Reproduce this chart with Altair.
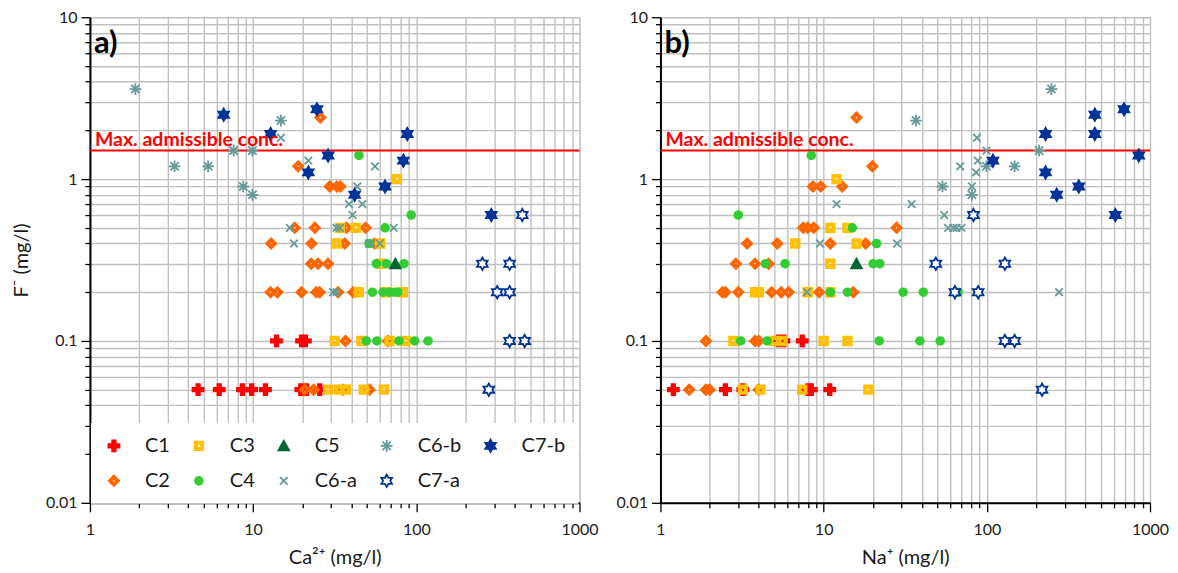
import altair as alt
import pandas as pd

# ---------------- data ----------------
# panel a) : x = Ca2+ (mg/l), y = F- (mg/l)
A_C1 = [(4.6, 0.05), (6.2, 0.05), (8.6, 0.05), (9.8, 0.05), (11.9, 0.05), (19.6, 0.05),
        (21.2, 0.05), (25.6, 0.05), (13.9, 0.1), (19.8, 0.1), (20.9, 0.1)]
A_C2 = [(25.8, 2.4), (18.9, 1.2), (29.5, 0.9), (32.6, 0.9), (34.3, 0.9), (18.0, 0.5),
        (23.9, 0.5), (37.3, 0.5), (48.9, 0.5), (12.9, 0.4), (22.8, 0.4), (36.4, 0.4),
        (55.6, 0.4), (22.7, 0.3), (25.0, 0.3), (28.8, 0.3), (12.8, 0.2), (14.1, 0.2),
        (19.8, 0.2), (24.4, 0.2), (25.6, 0.2), (33.2, 0.2), (41.1, 0.2), (36.8, 0.1),
        (67.0, 0.1), (20.7, 0.05), (23.5, 0.05), (35.5, 0.05), (51.7, 0.05)]
A_C3 = [(76, 1.0), (34.0, 0.5), (42.5, 0.5), (32.4, 0.4), (60, 0.4), (60.5, 0.3),
        (44.4, 0.2), (65, 0.2), (82.8, 0.2), (31.6, 0.1), (46.1, 0.1), (68.6, 0.1),
        (86, 0.1), (28.8, 0.05), (33.6, 0.05), (37.0, 0.05), (47.6, 0.05), (63.3, 0.05)]
A_C4 = [(44.5, 1.4), (93, 0.6), (64.3, 0.5), (51.3, 0.4), (56.9, 0.3), (65.6, 0.3),
        (84, 0.3), (53.8, 0.2), (62.5, 0.2), (68.7, 0.2), (73.6, 0.2), (77.2, 0.2),
        (49.4, 0.1), (57.3, 0.1), (78.3, 0.1), (97.7, 0.1), (118, 0.1)]
A_C5 = [(74.4, 0.3)]
A_C6A = [(14.8, 1.8), (21.8, 1.3), (55.8, 1.2), (43.5, 0.9), (38.7, 0.7), (46.7, 0.7),
         (40.6, 0.6), (16.8, 0.5), (32.4, 0.5), (34.0, 0.5), (72.6, 0.5), (17.8, 0.4),
         (51.3, 0.4), (59.7, 0.4), (30.9, 0.2), (32.4, 0.2)]
A_C6B = [(1.9, 3.6), (14.8, 2.3), (7.6, 1.5), (9.9, 1.5), (3.3, 1.2), (5.3, 1.2),
         (8.7, 0.9), (9.9, 0.8)]
A_C7A = [(446, 0.6), (254, 0.3), (373, 0.3), (313, 0.2), (373, 0.2), (373, 0.1),
         (461, 0.1), (278, 0.05)]
A_C7B = [(24.6, 2.7), (6.6, 2.5), (12.8, 1.9), (88, 1.9), (28.8, 1.4), (83.3, 1.3),
         (21.8, 1.1), (64.3, 0.9), (41.9, 0.8), (288, 0.6)]

# panel b) : x = Na+ (mg/l), y = F- (mg/l)
B_C1 = [(5.3, 0.1), (5.7, 0.1), (7.4, 0.1), (1.2, 0.05), (2.5, 0.05), (3.2, 0.05),
        (8.0, 0.05), (8.4, 0.05), (10.9, 0.05)]
B_C2 = [(15.9, 2.4), (19.9, 1.2), (8.6, 0.9), (9.6, 0.9), (13.0, 0.9), (7.5, 0.5),
        (8.0, 0.5), (8.7, 0.5), (28.0, 0.5), (3.4, 0.4), (5.2, 0.4), (11.0, 0.4),
        (18.1, 0.4), (2.9, 0.3), (3.8, 0.3), (4.6, 0.3), (2.4, 0.2), (2.5, 0.2), (3.0, 0.2),
        (4.8, 0.2), (5.5, 0.2), (6.1, 0.2), (9.4, 0.2), (15.2, 0.2), (1.9, 0.1),
        (3.8, 0.1), (4.0, 0.1), (1.5, 0.05), (1.9, 0.05), (2.0, 0.05), (4.0, 0.05)]
B_C3 = [(12.0, 1.0), (11.0, 0.5), (14.0, 0.5), (6.7, 0.4), (15.9, 0.4), (11.0, 0.3),
        (3.8, 0.2), (4.0, 0.2), (8.0, 0.2), (11.0, 0.2), (2.8, 0.1), (5.0, 0.1),
        (5.6, 0.1), (10.0, 0.1), (14.0, 0.1), (3.2, 0.05), (4.1, 0.05), (7.4, 0.05),
        (18.8, 0.05)]
B_C4 = [(8.4, 1.4), (3.0, 0.6), (15.0, 0.5), (21.1, 0.4), (4.4, 0.3), (5.8, 0.3),
        (20.1, 0.3), (22.1, 0.3), (11.0, 0.2), (14.0, 0.2), (30.7, 0.2), (40.8, 0.2),
        (66.8, 0.2), (3.1, 0.1), (4.5, 0.1), (21.9, 0.1), (38.9, 0.1), (51.8, 0.1)]
B_C5 = [(15.9, 0.3)]
B_C6A = [(87, 1.8), (99.5, 1.5), (88, 1.3), (68.7, 1.2), (86, 1.1), (81, 0.9),
         (12.0, 0.7), (34.6, 0.7), (54.8, 0.6), (58, 0.5), (62.2, 0.5), (65.2, 0.5),
         (69.9, 0.5), (9.5, 0.4), (28.2, 0.4), (7.9, 0.2), (277, 0.2)]
B_C6B = [(249, 3.6), (36.8, 2.3), (209, 1.5), (99.5, 1.2), (148, 1.2), (53.5, 0.9),
         (81, 0.8)]
B_C7A = [(82.8, 0.6), (48.7, 0.3), (129, 0.3), (63.7, 0.2), (88.5, 0.2), (129, 0.1),
         (148, 0.1), (218, 0.05)]
B_C7B = [(693, 2.7), (459, 2.5), (229, 1.9), (459, 1.9), (853, 1.4), (109, 1.3),
         (229, 1.1), (366, 0.9), (268, 0.8), (613, 0.6)]

MAX_CONC = 1.5
MAX_LABEL = "Max. admissible conc."

X_LABELS = [1, 10, 100, 1000]
Y_LABELS = [0.01, 0.1, 1, 10]
X_GRID = [round(m * 10 ** e, 4) for e in range(0, 3) for m in range(1, 10)] + [1000]
Y_GRID = [round(m * 10 ** e, 4) for e in range(-2, 1) for m in range(1, 10)] + [10]

# legend order (filled column by column, two rows)
ORDER = ["C1", "C2", "C3", "C4", "C5", "C6-a", "C6-b", "C7-a", "C7-b"]

# ---------------- styles ----------------
RED, ORANGE, YELLOW = "#FF0000", "#FF6600", "#FFC000"
GREEN, DKGREEN, TEAL, BLUE = "#33CC33", "#006633", "#669999", "#003399"

HEX = ("M0,-0.95L0.27,-0.47L0.82,-0.47L0.55,0L0.82,0.47L0.27,0.47L0,0.95"
       "L-0.27,0.47L-0.82,0.47L-0.55,0L-0.82,-0.47L-0.27,-0.47Z")
SHAPE = {
    "C1": "M-0.27,-0.85H0.27V-0.27H0.85V0.27H0.27V0.85H-0.27V0.27H-0.85V-0.27H-0.27Z",
    "C2": "M0,-0.8L0.8,0L0,0.8L-0.8,0ZM0,-0.34L-0.34,0L0,0.34L0.34,0Z",
    "C3": "M-0.66,-0.66H0.66V0.66H-0.66ZM-0.3,-0.3V0.3H0.3V-0.3Z",
    "C4": "M-0.6,0A0.6,0.6,0,1,0,0.6,0A0.6,0.6,0,1,0,-0.6,0Z",
    "C5": "M0,-0.78L0.82,0.7L-0.82,0.7Z",
    "C6-a": "M-0.58,-0.58L0.58,0.58M-0.58,0.58L0.58,-0.58",
    "C6-b": "M0,-0.9V0.9M-0.9,0H0.9M-0.64,-0.64L0.64,0.64M-0.64,0.64L0.64,-0.64",
    "C7-a": HEX,
    "C7-b": HEX,
}
FILL = {"C1": RED, "C2": ORANGE, "C3": YELLOW, "C4": GREEN, "C5": DKGREEN,
        "C6-a": "transparent", "C6-b": "transparent", "C7-a": "white", "C7-b": BLUE}
STROKE = {"C1": RED, "C2": ORANGE, "C3": YELLOW, "C4": GREEN, "C5": DKGREEN,
          "C6-a": TEAL, "C6-b": TEAL, "C7-a": BLUE, "C7-b": BLUE}

FONT = "Lato"
TXT = "#1a1a1a"
GRID = "#C0C0C0"
SYMBOL_SIZE = 169
STROKE_W = 1.8


def frame(series):
    rows = []
    for name, pts in series:
        for x, y in pts:
            rows.append({"conc": x, "fluoride": y, "group": name})
    return pd.DataFrame(rows)


def is_major(values):
    return "indexof([" + ",".join(str(v) for v in values) + "], datum.value) >= 0"


def make_axis(grid_values, label_values, title, title_padding, label_padding):
    test = is_major(label_values)
    kw = dict(
        values=grid_values,
        labelExpr=f"{test} ? format(datum.value, '~g') : ''",
        tickSize={"condition": {"test": test, "value": 9}, "value": 5},
        grid=True, gridColor=GRID, gridWidth=1.4,
        domainColor="black", domainWidth=2,
        tickColor="black", tickWidth=1.3,
        labelFont=FONT, labelFontSize=16, labelColor=TXT, labelPadding=label_padding,
        labelFlush=False, labelOverlap=False,
        titleFont=FONT, titleFontSize=20, titleFontWeight="normal", titleColor=TXT,
    )
    if title is None:
        kw["title"] = None
    else:
        kw["title"] = title
        kw["titlePadding"] = title_padding
    return alt.Axis(**kw)


def panel(df, xtitle, letter, show_legend, ytitle):
    xs = alt.Scale(type="log", domain=[1, 1000], nice=False)
    ys = alt.Scale(type="log", domain=[0.01, 10], nice=False)
    xaxis = make_axis(X_GRID, X_LABELS, xtitle, 10, 10)
    yaxis = make_axis(Y_GRID, Y_LABELS, ytitle, 14, 4)

    if show_legend:
        leg = alt.Legend(
            orient="none", legendX=1, legendY=406, columns=5, title=None,
            fillColor="white", padding=13, symbolSize=SYMBOL_SIZE,
            symbolStrokeWidth=STROKE_W,
            labelFont=FONT, labelFontSize=20, labelColor=TXT, labelOffset=21,
            columnPadding=19, rowPadding=15, labelLimit=0,
        )
    else:
        leg = None

    def sc(mapping):
        return alt.Scale(domain=ORDER, range=[mapping[g] for g in ORDER])

    limit_df = pd.DataFrame({"limit": [MAX_CONC]})
    letter_df = pd.DataFrame({"letter": [letter]})

    rule = alt.Chart(limit_df).mark_rule(color=RED, strokeWidth=2).encode(
        y=alt.Y("limit:Q", scale=ys, axis=yaxis)
    )
    points = alt.Chart(df).mark_point(
        filled=True, size=SYMBOL_SIZE, strokeWidth=STROKE_W, opacity=1
    ).encode(
        x=alt.X("conc:Q", scale=xs, axis=xaxis),
        y=alt.Y("fluoride:Q", scale=ys, axis=yaxis),
        shape=alt.Shape("group:N", scale=sc(SHAPE), legend=leg),
        fill=alt.Fill("group:N", scale=sc(FILL), legend=leg),
        stroke=alt.Stroke("group:N", scale=sc(STROKE), legend=leg),
    )
    limit_text = alt.Chart(limit_df).mark_text(
        align="left", baseline="alphabetic", dy=-5, color=RED, font=FONT,
        fontSize=19.5, fontWeight="bold"
    ).encode(
        x=alt.value(5),
        y=alt.Y("limit:Q", scale=ys, axis=yaxis),
        text=alt.value(MAX_LABEL),
    )
    letter_text = alt.Chart(letter_df).mark_text(
        align="left", baseline="alphabetic", color="black", font=FONT,
        fontSize=31, fontWeight="bold"
    ).encode(x=alt.value(4), y=alt.value(36), text="letter:N")

    return alt.layer(rule, points, limit_text, letter_text).properties(
        width=490, height=486
    )


df_a = frame([("C1", A_C1), ("C2", A_C2), ("C3", A_C3), ("C4", A_C4), ("C5", A_C5),
              ("C6-a", A_C6A), ("C6-b", A_C6B), ("C7-a", A_C7A), ("C7-b", A_C7B)])
df_b = frame([("C1", B_C1), ("C2", B_C2), ("C3", B_C3), ("C4", B_C4), ("C5", B_C5),
              ("C6-a", B_C6A), ("C6-b", B_C6B), ("C7-a", B_C7A), ("C7-b", B_C7B)])

chart_a = panel(df_a, "Ca²⁺ (mg/l)", "a)", True, "F⁻ (mg/l)")
chart_b = panel(df_b, "Na⁺ (mg/l)", "b)", False, None)

chart = (
    alt.hconcat(chart_a, chart_b, spacing=15)
    .resolve_scale(x="independent", y="independent", shape="independent",
                   fill="independent", stroke="independent")
    .resolve_legend(shape="independent", fill="independent", stroke="independent")
    .properties(padding={"left": 2, "top": 0, "right": 0, "bottom": 0},
                background="white")
    .configure_view(stroke=None)
    .configure_axis(titleFont=FONT, titleFontSize=20, titleFontWeight="normal",
                    titleColor=TXT)
    .configure(font=FONT)
)

chart.save("out.html", embed_options={"renderer": "svg", "actions": False})
